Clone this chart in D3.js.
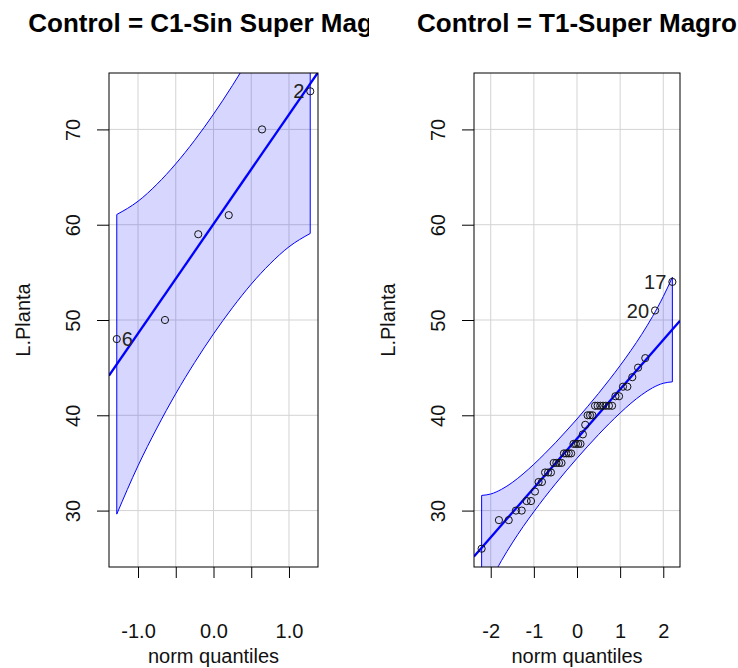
<!DOCTYPE html>
<html>
<head>
<meta charset="utf-8">
<script src="https://cdn.jsdelivr.net/npm/d3@7"></script>
<style>
  body { margin: 0; background: #fff; }
  svg { display: block; }
  text { font-family: "Liberation Sans", Arial, Helvetica, sans-serif; }
</style>
</head>
<body>
<script>
// Normal Q-Q plots of plant length (L.Planta), one panel per Control group,
// each with a fitted reference line and a pointwise 95% confidence envelope.

const titles = ["Control = C1-Sin Super Magro", "Control = T1-Super Magro"];
const yTicks = [30, 40, 50, 60, 70];
const yLabel = "L.Planta";
const xLabel = "norm quantiles";

// ---- C1-Sin Super Magro ----
const c1Quantiles = [-1.282, -0.643, -0.202, 0.202, 0.643, 1.282];
const c1Values = [48, 50, 59, 61, 70, 74];
const c1Ids = ["6", "", "", "", "", "2"];
const c1Line = [60.07, 11.49]; // intercept, slope
const c1BandZ = [-1.2816, -1.0, -0.75, -0.5, -0.25, 0, 0.25, 0.5, 0.75, 1.0, 1.2816];
const c1BandUpper = [61.07, 62.46, 64.24, 66.39, 68.86, 71.60, 74.60, 77.88, 81.48, 85.44, 90.52];
const c1BandLower = [29.63, 34.70, 38.66, 42.27, 45.54, 48.54, 51.28, 53.76, 55.90, 57.68, 59.08];
const c1XTicks = [-1.0, -0.5, 0.0, 0.5, 1.0];
const c1XTickLabels = ["-1.0", "", "0.0", "", "1.0"];

// ---- T1-Super Magro ----
const t1Quantiles = [-2.211, -1.810, -1.583, -1.416, -1.282, -1.167, -1.066, -0.975, -0.891, -0.813,
  -0.740, -0.670, -0.604, -0.540, -0.478, -0.418, -0.359, -0.302, -0.246, -0.191,
  -0.136, -0.081, -0.027, 0.027, 0.081, 0.136, 0.191, 0.246, 0.302, 0.359,
  0.418, 0.478, 0.540, 0.604, 0.670, 0.740, 0.813, 0.891, 0.975, 1.066,
  1.167, 1.282, 1.416, 1.583, 1.810, 2.211];
const t1Values = [26, 29, 29, 30, 30, 31, 31, 32, 33, 33,
  34, 34, 34, 35, 35, 35, 35, 36, 36, 36,
  36, 37, 37, 37, 37, 38, 39, 40, 40, 40,
  41, 41, 41, 41, 41, 41, 41, 42, 42, 43,
  43, 44, 45, 46, 51, 54];
const t1Ids = ["", "", "", "", "", "", "", "", "", "",
  "", "", "", "", "", "", "", "", "", "",
  "", "", "", "", "", "", "", "", "", "",
  "", "", "", "", "", "", "", "", "", "",
  "", "", "", "", "20", "17"];
const t1Line = [37.55, 5.18]; // intercept, slope
const t1BandZ = [-2.211, -2.0, -1.75, -1.5, -1.25, -1.0, -0.75, -0.5, -0.25, 0,
  0.25, 0.5, 0.75, 1.0, 1.25, 1.5, 1.75, 2.0, 2.211];
const t1BandUpper = [31.59, 31.74, 32.23, 32.95, 33.85, 34.86, 35.96, 37.12, 38.35, 39.61,
  40.94, 42.30, 43.73, 45.22, 46.80, 48.49, 50.36, 52.46, 54.49];
const t1BandLower = [20.61, 22.64, 24.75, 26.61, 28.31, 29.88, 31.38, 32.80, 34.17, 35.49,
  36.76, 37.98, 39.15, 40.24, 41.26, 42.15, 42.88, 43.36, 43.51];
const t1XTicks = [-2, -1, 0, 1, 2];
const t1XTickLabels = ["-2", "-1", "0", "1", "2"];

// ---- layout ----
const W = 738, H = 668;
const plotTop = 73, plotBottom = 567;

const panels = [
  { title: titles[0], fig: [0, 369], box: [109, 318], z: c1Quantiles, v: c1Values, ids: c1Ids,
    line: c1Line, bz: c1BandZ, bu: c1BandUpper, bl: c1BandLower, xt: c1XTicks, xtl: c1XTickLabels },
  { title: titles[1], fig: [369, 738], box: [474, 680], z: t1Quantiles, v: t1Values, ids: t1Ids,
    line: t1Line, bz: t1BandZ, bu: t1BandUpper, bl: t1BandLower, xt: t1XTicks, xtl: t1XTickLabels }
];

const svg = d3.select("body").append("svg")
  .attr("width", W).attr("height", H);
const defs = svg.append("defs");

// shared vertical scale over both groups, padded 4% like base graphics
const yExt = d3.extent(c1Values.concat(t1Values));
const yPad = (yExt[1] - yExt[0]) * 0.04;
const y = d3.scaleLinear()
  .domain([yExt[0] - yPad, yExt[1] + yPad])
  .range([plotBottom, plotTop]);

panels.forEach((p, i) => {
  const zExt = d3.extent(p.z);
  const zPad = (zExt[1] - zExt[0]) * 0.04;
  const x = d3.scaleLinear().domain([zExt[0] - zPad, zExt[1] + zPad]).range(p.box);
  const [x0, x1] = p.box;
  const cx = (x0 + x1) / 2;

  defs.append("clipPath").attr("id", "plot" + i)
    .append("rect").attr("x", x0).attr("y", plotTop)
    .attr("width", x1 - x0).attr("height", plotBottom - plotTop);
  defs.append("clipPath").attr("id", "fig" + i)
    .append("rect").attr("x", p.fig[0]).attr("y", 0)
    .attr("width", p.fig[1] - p.fig[0]).attr("height", H);

  const g = svg.append("g");
  const inner = g.append("g").attr("clip-path", `url(#plot${i})`);

  // grid
  inner.selectAll("line.gx").data(p.xt).join("line")
    .attr("x1", d => x(d)).attr("x2", d => x(d))
    .attr("y1", plotTop).attr("y2", plotBottom)
    .attr("stroke", "#d3d3d3").attr("stroke-width", 1);
  inner.selectAll("line.gy").data(yTicks).join("line")
    .attr("x1", x0).attr("x2", x1)
    .attr("y1", d => y(d)).attr("y2", d => y(d))
    .attr("stroke", "#d3d3d3").attr("stroke-width", 1);

  // confidence envelope
  const band = p.bz.map((z, k) => ({ z, lo: p.bl[k], hi: p.bu[k] }));
  const area = d3.area()
    .x(d => x(d.z)).y0(d => y(d.lo)).y1(d => y(d.hi))
    .curve(d3.curveMonotoneX);
  inner.append("path").datum(band)
    .attr("d", area)
    .attr("fill", "blue").attr("fill-opacity", 0.16)
    .attr("stroke", "blue").attr("stroke-width", 1);

  // reference line
  const [a, b] = p.line;
  const dom = x.domain();
  inner.append("line")
    .attr("x1", x(dom[0])).attr("y1", y(a + b * dom[0]))
    .attr("x2", x(dom[1])).attr("y2", y(a + b * dom[1]))
    .attr("stroke", "blue").attr("stroke-width", 2.3);

  // observations
  const pts = p.z.map((z, k) => ({ z, v: p.v[k], id: p.ids[k] }));
  g.selectAll("circle").data(pts).join("circle")
    .attr("cx", d => x(d.z)).attr("cy", d => y(d.v)).attr("r", 3.6)
    .attr("fill", "none").attr("stroke", "#111").attr("stroke-width", 1);

  // identified points
  g.selectAll("text.id").data(pts.filter(d => d.id)).join("text")
    .attr("class", "id")
    .attr("x", d => d.z < 0 ? x(d.z) + 5 : x(d.z) - 6)
    .attr("y", d => y(d.v))
    .attr("dy", "0.36em")
    .attr("text-anchor", d => d.z < 0 ? "start" : "end")
    .attr("font-size", 20).attr("fill", "#222")
    .text(d => d.id);

  // box
  g.append("rect").attr("x", x0).attr("y", plotTop)
    .attr("width", x1 - x0).attr("height", plotBottom - plotTop)
    .attr("fill", "none").attr("stroke", "#000").attr("stroke-width", 1);

  // x axis
  const xa = g.append("g").attr("transform", `translate(0,${plotBottom})`)
    .call(d3.axisBottom(x).tickValues(p.xt).tickSize(11)
      .tickFormat((d, k) => p.xtl[k]));
  xa.select(".domain").remove();
  xa.selectAll(".tick line").attr("stroke", "#000");
  xa.selectAll(".tick text")
    .attr("y", 71).attr("dy", 0)
    .attr("font-size", 20).attr("fill", "#111")
    .attr("font-family", "Liberation Sans, Arial, sans-serif");

  // y axis with labels parallel to the axis
  const ya = g.append("g").attr("transform", `translate(${x0},0)`)
    .call(d3.axisLeft(y).tickValues(yTicks).tickSize(12));
  ya.select(".domain").remove();
  ya.selectAll(".tick line").attr("stroke", "#000");
  ya.selectAll(".tick text")
    .attr("x", 0).attr("y", -29).attr("dy", 0)
    .attr("transform", "rotate(-90)")
    .attr("text-anchor", "middle")
    .attr("font-size", 20).attr("fill", "#111")
    .attr("font-family", "Liberation Sans, Arial, sans-serif");

  // axis titles
  g.append("text")
    .attr("x", cx).attr("y", 663)
    .attr("text-anchor", "middle").attr("font-size", 20).attr("fill", "#111")
    .text(xLabel);
  g.append("text")
    .attr("transform", `translate(${x0 - 79},${(plotTop + plotBottom) / 2}) rotate(-90)`)
    .attr("text-anchor", "middle").attr("font-size", 20).attr("fill", "#111")
    .text(yLabel);

  // panel title, clipped to its own figure region
  g.append("g").attr("clip-path", `url(#fig${i})`)
    .append("text")
    .attr("x", cx).attr("y", 32)
    .attr("text-anchor", "middle")
    .attr("font-size", 26).attr("font-weight", "bold").attr("fill", "#000")
    .text(p.title);
});
</script>
</body>
</html>
